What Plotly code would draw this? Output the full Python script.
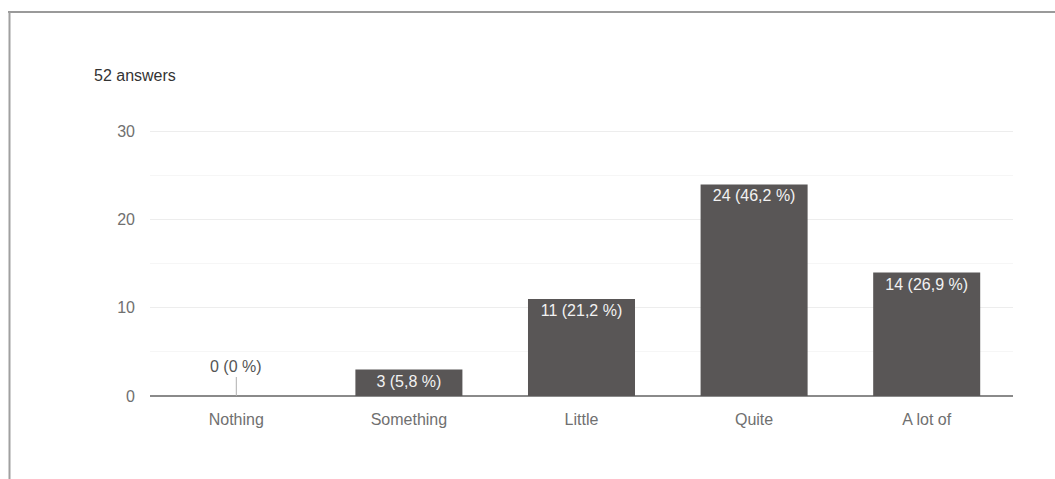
import plotly.graph_objects as go

# Survey responses
categories = ["Nothing", "Something", "Little", "Quite", "A lot of"]
counts = [0, 3, 11, 24, 14]
total_answers = 52
y_ticks = [0, 10, 20, 30]

W, H = 1055, 479
L, R, T, B = 150, 42, 131, 83
plot_w = W - L - R
plot_h = H - T - B


def px_x(px):
    return (px - L) / plot_w


def px_y(py):
    return (H - B - py) / plot_h


def pct_label(n):
    p = n / total_answers * 100
    if p == 0:
        return f"{n} (0 %)"
    return f"{n} ({p:.1f} %)".replace(".", ",")


labels = [pct_label(c) for c in counts]
bar_color = "#595656"
font_family = "Liberation Sans, Arial, sans-serif"

fig = go.Figure()
fig.add_trace(go.Bar(
    x=categories,
    y=counts,
    marker=dict(color=bar_color, line=dict(width=0)),
    width=0.62,
    text=[lbl if c > 0 else "" for lbl, c in zip(labels, counts)],
    textposition="inside",
    insidetextanchor="end",
    textangle=0,
    textfont=dict(color="#f2f2f2", size=16, family=font_family),
    cliponaxis=False,
    hoverinfo="skip",
))

# Zero-valued bars get their label above a short leader line
annotations = []
for cat, c, lbl in zip(categories, counts, labels):
    if c == 0:
        annotations.append(dict(
            x=cat, y=0, xref="x", yref="y",
            text=lbl, showarrow=True, arrowhead=0, arrowwidth=1,
            arrowcolor="#b0b0b0", ax=0, ay=-19, yanchor="bottom",
            font=dict(size=16, color="#555555", family=font_family),
        ))

annotations.append(dict(
    x=px_x(92), y=px_y(75), xref="paper", yref="paper",
    text="52 answers", showarrow=False, xanchor="left", yanchor="middle",
    font=dict(size=16, color="#333333", family=font_family),
))

# Card frame: top and left border lines, plus the top gridline at the range edge
shapes = [
    dict(type="line", xref="paper", yref="paper",
         x0=px_x(8), x1=px_x(W), y0=px_y(12), y1=px_y(12),
         line=dict(color="#9a9a9a", width=2)),
    dict(type="line", xref="paper", yref="paper",
         x0=px_x(9.5), x1=px_x(9.5), y0=px_y(12), y1=px_y(H),
         line=dict(color="#a0a0a0", width=2)),
    dict(type="line", xref="paper", yref="y",
         x0=0, x1=1, y0=y_ticks[-1], y1=y_ticks[-1],
         line=dict(color="#ededed", width=1), layer="below"),
]

fig.update_layout(
    width=W, height=H,
    margin=dict(l=L, r=R, t=T, b=B),
    paper_bgcolor="white",
    plot_bgcolor="white",
    showlegend=False,
    bargap=0.38,
    annotations=annotations,
    shapes=shapes,
    font=dict(family=font_family),
)

fig.update_xaxes(
    showgrid=False, showline=False, ticks="",
    tickfont=dict(size=16, color="#707070", family=font_family),
    ticklabelstandoff=12,
)

fig.update_yaxes(
    range=[0, 30.06],
    tickvals=y_ticks,
    showgrid=True, gridcolor="#ededed", gridwidth=1,
    minor=dict(dtick=5, showgrid=True, gridcolor="#f6f6f6", gridwidth=1),
    zeroline=True, zerolinecolor="#8a8a8a", zerolinewidth=2,
    showline=False, ticks="",
    tickfont=dict(size=16, color="#707070", family=font_family),
    ticklabelstandoff=14,
)

fig.write_html("out.html")
